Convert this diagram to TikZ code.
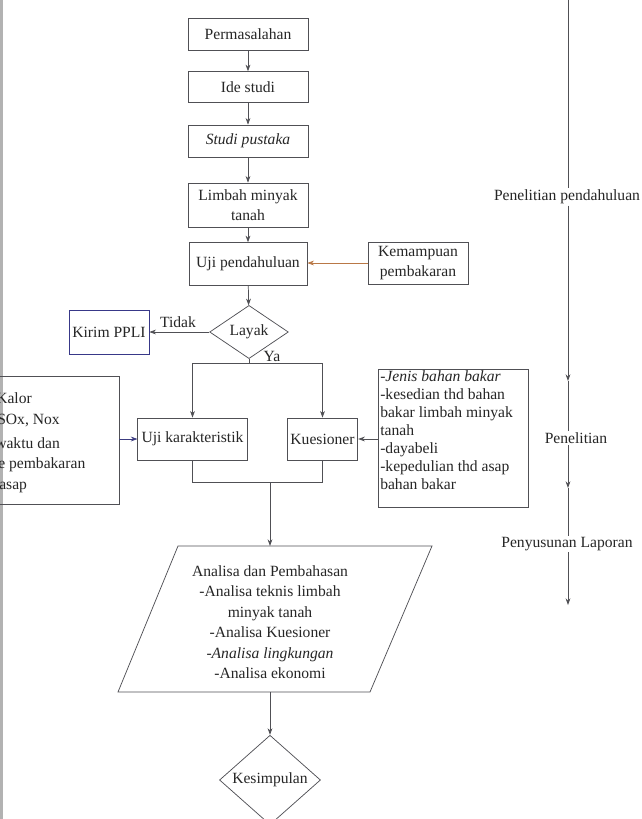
\documentclass[tikz,border=0pt]{standalone}
\usepackage{fontspec}
\setmainfont{Liberation Serif}
\usetikzlibrary{arrows.meta,shapes.geometric}
\definecolor{brn}{RGB}{185,120,70}
\definecolor{lnc}{RGB}{80,80,85}
\begin{document}
\begin{tikzpicture}[x=0.75pt,y=-0.75pt,
  every node/.style={font=\fontsize{11.7}{13.5}\selectfont, text=black!85},
  ln/.style={draw=lnc, line width=0.55pt},
  arr/.style={ln, -{Stealth[length=5pt,width=3.6pt]}},
  box/.style={ln, rectangle, inner sep=1pt, align=center, font=\fontsize{11.7}{15.5}\selectfont},
  tl/.style={inner sep=1pt}
]
\fill[white] (0,0) rectangle (642,819);
\useasboundingbox (0,0) rectangle (642,819);
\fill[black!30] (0,0) rectangle (3,819);

% main column
\node[box, minimum width=90pt, minimum height=24pt] (p1) at (248,34) {Permasalahan};
\node[box, minimum width=90pt, minimum height=23pt] (p2) at (248,87) {Ide studi};
\node[box, minimum width=90pt, minimum height=24pt] (p3) at (248,141) {\textit{Studi pustaka}};
\node[box, minimum width=90pt, minimum height=33pt] (p4) at (248,205) {Limbah minyak\\tanah};
\node[box, minimum width=88.5pt, minimum height=32pt] (p5) at (248,264) {Uji pendahuluan};
\node[box, minimum width=75pt, minimum height=31.5pt] (kem) at (418,263) {Kemampuan\\pembakaran};
\node[ln, diamond, minimum width=59pt, minimum height=31.5pt, inner sep=0pt] (layak) at (249,332) {Layak};
\node[box, draw=blue!30!lnc, minimum width=60pt, minimum height=33pt] (kirim) at (109,332) {Kirim PPLI};
\node (tidak) at (178,322) {Tidak};
\node (ya) at (272,356) {Ya};

\node[box, minimum width=82pt, minimum height=31.5pt] (uk) at (192.5,439) {Uji karakteristik};
\node[box, minimum width=53pt, minimum height=31.5pt] (kues) at (322.5,439) {Kuesioner};

% left box (cut at the page edge)
\node[box, minimum width=96.75pt, minimum height=96pt] (lbox) at (54.5,440) {};
\begin{scope}
\clip (0,0) rectangle (642,819);
\node[anchor=west, inner sep=0pt] (l1) at (-4,398) {Kalor};
\node[anchor=west, inner sep=0pt] (l2) at (-3,421) {SOx, Nox};
\node[anchor=west, inner sep=0pt] (l3) at (-5,443) {waktu dan};
\node[anchor=west, inner sep=0pt] (l4) at (-2,465) {e pembakaran};
\node[anchor=west, inner sep=0pt] (l5) at (-1,487) {asap};
\end{scope}

% right list box
\node[box, minimum width=112.5pt, minimum height=103.5pt] (lst) at (453,438) {};
\node[anchor=north west, align=left, inner sep=0pt] (lstt) at (380,370)
  {\textit{-Jenis bahan bakar}\\-kesedian thd bahan\\bakar limbah minyak\\tanah\\-dayabeli\\-kepedulian thd asap\\bahan bakar};

% parallelogram
\draw[ln] (178,546) coordinate (pa) -- (432,546) coordinate (pb)
  -- (370,692) coordinate (pc) -- (118,692) coordinate (pd) -- cycle;
\coordinate (ptop) at (270,546);
\coordinate (pbot) at (270,692);
\node[align=center, font=\fontsize{11.7}{15.4}\selectfont] (ana) at (270,622)
  {Analisa dan Pembahasan\\-Analisa teknis limbah\\minyak tanah\\-Analisa Kuesioner\\\textit{-Analisa lingkungan}\\-Analisa ekonomi};

\node[ln, diamond, minimum width=75.75pt, minimum height=60pt, inner sep=0pt] (kes) at (270,780) {Kesimpulan};

% connectors
\draw[arr] (p1) -- (p2);
\draw[arr] (p2) -- (p3);
\draw[arr] (p3) -- (p4);
\draw[arr] (p4) -- (p5);
\draw[arr, draw=brn] (kem.west) -- (kem.west -| p5.east);
\draw[arr] (p5) -- (layak);
\draw[arr] (layak.west) -- (layak.west -| kirim.east);
\coordinate (br) at (249,363);
\draw[ln] (layak.south) -- (br);
\draw[arr] (br) -| (uk.north);
\draw[arr] (br) -| (kues.north);
\coordinate (mg) at (270,482);
\draw[ln] (uk.south) |- (mg);
\draw[ln] (kues.south) |- (mg);
\draw[arr] (mg) -- (ptop);
\draw[arr, draw=blue!25!lnc] (lbox.east |- uk.west) -- (uk.west);
\draw[arr] (lst.west |- kues.east) -- (kues.east);
\draw[arr] (pbot) -- (kes.north);

% timeline
\coordinate (t0) at (568,0);
\node[tl] (tl1) at (567,197) {Penelitian pendahuluan};
\draw[ln] (t0) -- (t0 |- tl1.north);
\coordinate (t1) at (568,381);
\draw[arr] (t1 |- tl1.south) -- (t1);
\node[tl] (tl2) at (576,438) {Penelitian};
\draw[ln] (t1) -- (t1 |- tl2.north);
\coordinate (t2) at (568,488);
\draw[arr] (t1 |- tl2.south) -- (t2);
\node[tl] (tl3) at (567,544) {Penyusunan Laporan};
\draw[ln] (t2) -- (t2 |- tl3.north);
\coordinate (t3) at (568,605);
\draw[arr] (t2 |- tl3.south) -- (t3);
\end{tikzpicture}
\end{document}
